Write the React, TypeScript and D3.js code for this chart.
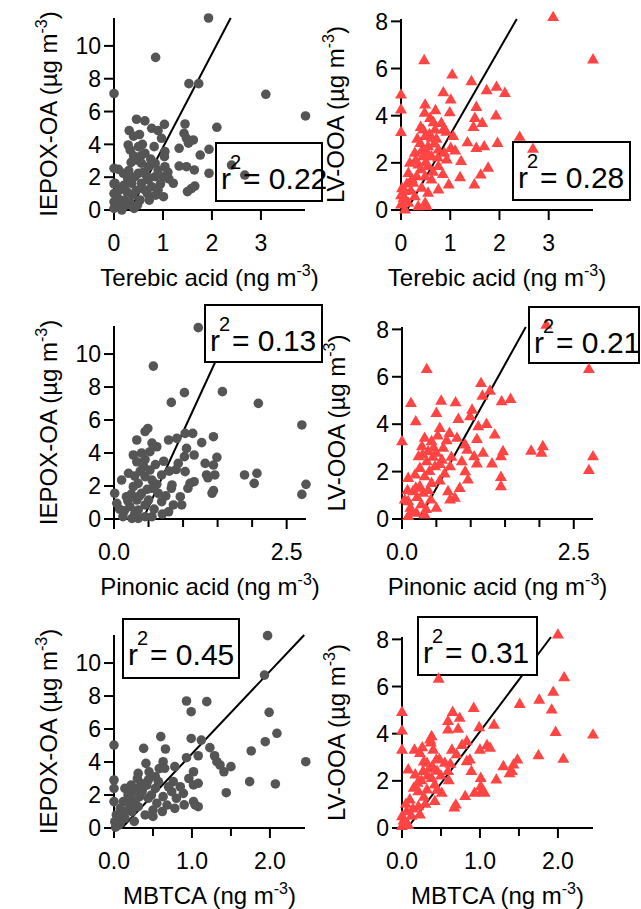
import React from 'react';
import * as d3 from 'd3';

const FONT = '"Liberation Sans", Arial, Helvetica, sans-serif';
const GREY = '#555555';
const RED = '#ff4444';

// IEPOX-OA vs terebic acid
const iepoxTerebic: [number, number][] = [
  [1.93, 11.7], [0.85, 9.3], [0, 7.1], [1.53, 7.7], [1.73, 7.7], [3.1, 7.05], [3.91, 5.73], [2.1, 5.04],
  [1.45, 5.24], [1.43, 4.67], [1.94, 3.7], [1.76, 3.35], [2.4, 2.74], [2.67, 2.13], [1.94, 2.24], [1.64, 2.44],
  [1.48, 2.64], [1.33, 2.68], [1.5, 1.12], [1.65, 1.46], [1.58, 1.3], [1.21, 1.63], [1.33, 3.76], [1.52, 4.07],
  [1.62, 4.27], [1.48, 4.37], [0.46, 5.53], [0.63, 5.43], [0.31, 4.84], [0.77, 4.98], [0.9, 4.84], [1.03, 5.22],
  [0.97, 4.37], [1.04, 3.56], [1.03, 3.25], [0.29, 3.96], [0.33, 3.66], [0.5, 3.86], [0.63, 3.46], [0.82, 3.86],
  [0.46, 3.05], [0.56, 2.85], [0.7, 2.64], [0.84, 2.85], [0.9, 2.44], [1.01, 2.03], [1.04, 2.64], [0.09, 2.48],
  [0.19, 2.24], [0.02, 1.63], [0.12, 1.32], [0.05, 0.91], [0.02, 0.41], [0.12, 0.2], [0.22, 0.61], [0.26, 1.12],
  [0.36, 1.63], [0.43, 2.03], [0.5, 2.24], [0.56, 1.63], [0.63, 1.22], [0.7, 1.83], [0.77, 1.42], [0.84, 2.03],
  [0.9, 1.22], [1.01, 0.81], [0.53, 0.61], [0.41, 0.1], [0.33, 0.41], [0.16, 0], [0, 0.1], [0, 0.5],
  [0, 1.0], [0, 1.6], [0, 2.54], [0.4, 3.3], [0.55, 3.3], [0.6, 2.3], [0.45, 1.2], [0.38, 0.9],
  [0.3, 2.4], [0.66, 2.1], [0.75, 3.1], [0.58, 4.0], [0.68, 1.0], [0.28, 1.9], [0.08, 0.7], [0.2, 1.5],
  [0.35, 2.9], [0.72, 0.6], [0.48, 0.3], [0.95, 1.6], [0.85, 0.9], [1.1, 2.3], [1.12, 1.9], [0.52, 4.6],
  [0.4, 4.5], [0.24, 0.3], [0.1, 1.2],
];

// LV-OOA vs terebic acid
const lvTerebic: [number, number][] = [
  [3.09, 8.16], [3.9, 6.36], [0.47, 6.33], [1.04, 5.72], [1.43, 5.44], [0.86, 4.97], [1.01, 4.66], [1.74, 5.06],
  [1.94, 5.2], [2.11, 4.94], [0, 4.87], [0, 4.24], [0, 3.28], [0.49, 4.45], [0.7, 4.21], [0.99, 4.12],
  [0.48, 4.1], [1.53, 4.35], [1.5, 3.88], [1.47, 3.5], [1.65, 3.67], [1.93, 3.98], [2.41, 3.08], [2.68, 2.57],
  [1.96, 2.82], [1.69, 2.68], [1.53, 2.61], [1.35, 2.85], [1.77, 1.77], [1.62, 1.48], [1.49, 1.06], [1.22, 2.05],
  [1.2, 1.37], [0.97, 1.06], [0.76, 0.85], [0.55, 0.71], [0.49, 0.28], [1.06, 3.11], [1.01, 2.61], [0.93, 2.12],
  [0.82, 3.67], [0.59, 3.88], [0.86, 3.39], [0.69, 3.39], [0.45, 3.39], [0.49, 3.11], [0.62, 3.04], [0.39, 2.82],
  [0.55, 2.68], [0.76, 2.54], [0.28, 2.4], [0.45, 2.26], [0.62, 2.26], [0.18, 1.98], [0.35, 1.91], [0.55, 1.84],
  [0.76, 1.84], [0.15, 1.55], [0.32, 1.41], [0.49, 1.41], [0.62, 1.27], [0.25, 1.13], [0.42, 0.92], [0.08, 0.78],
  [0.05, 0.49], [0, 0.21], [0.15, 0.28], [0.28, 0.56], [0.08, 0], [0.35, 0.14], [0.52, 0.15], [0, 0.6],
  [0.02, 0.9], [0.68, 2.8], [0.4, 3.5], [0.33, 3.0], [0.5, 2.0], [0.65, 1.6], [0.88, 2.4], [0.72, 3.0],
  [0.85, 1.5], [0.22, 1.3], [0.12, 1.1], [0.4, 1.7], [0.58, 3.2], [0.3, 2.1], [0.1, 0.4], [0.2, 0.8],
  [0.75, 2.2], [0.92, 3.3], [1.1, 2.5], [0.42, 2.5], [0.66, 3.7], [0.54, 2.4],
];

// IEPOX-OA vs pinonic acid
const iepoxPinonic: [number, number][] = [
  [1.22, 11.6], [0.57, 9.27], [1.02, 7.66], [0.83, 7.07], [1.57, 7.72], [2.09, 7.01], [2.72, 5.7], [1.44, 4.99],
  [1.27, 4.63], [1.14, 5.19], [1.03, 5.19], [0.91, 4.89], [0.79, 4.79], [0.49, 5.49], [0.45, 5.3], [0.33, 4.79],
  [0.62, 4.38], [0.52, 4.08], [0.28, 3.88], [0.33, 3.47], [0.45, 3.6], [1.05, 4.28], [1.16, 3.88], [1.02, 3.78],
  [0.93, 3.37], [1.03, 2.87], [1.32, 3.37], [1.44, 3.27], [1.49, 3.74], [1.46, 2.67], [1.34, 2.67], [1.36, 2.5],
  [1.89, 2.67], [2.07, 2.77], [2.03, 2.16], [2.72, 1.49], [2.78, 2.1], [1.42, 1.56], [1.44, 1.72], [1.1, 2.16],
  [1.16, 2.26], [1.07, 1.86], [0.84, 2.06], [0.83, 1.86], [0.96, 1.35], [0.98, 0.85], [0.86, 0.85], [0.79, 0.44],
  [0.69, 1.05], [0.64, 1.56], [0.55, 1.86], [0.69, 2.67], [0.21, 2.77], [0.11, 2.36], [0.01, 1.56], [0.04, 0.95],
  [0.13, 0.14], [0.26, 0.04], [0.35, 0.04], [0.45, 0.14], [0.55, 0.14], [0.23, 0.75], [0.33, 1.15], [0.4, 1.56],
  [0.35, 2.16], [0.45, 2.57], [0.52, 2.97], [0.55, 2.36], [0.43, 3.17], [0.28, 1.96], [0.18, 1.35], [0.45, 0.85],
  [0.35, 0.55], [0.5, 1.15], [0.3, 2.6], [0.6, 3.3], [0.38, 2.9], [0.25, 1.5], [0.15, 0.5], [0.3, 0.3],
  [0.48, 1.8], [0.62, 2.1], [0.72, 3.5], [0.8, 2.9], [0.4, 4.0], [0.2, 1.1], [0.08, 0.6], [0.58, 0.6],
  [0.7, 0.3], [0.9, 3.0], [0.75, 1.4], [0.37, 1.4], [0.55, 4.6],
];

// LV-OOA vs pinonic acid
const lvPinonic: [number, number][] = [
  [2.1, 8.17], [2.72, 6.3], [0.36, 6.3], [1.15, 5.71], [1.28, 5.39], [1.17, 5.18], [1.45, 4.94], [1.58, 5.04],
  [0.57, 4.97], [0.78, 4.9], [0.13, 4.87], [0.5, 4.45], [0.2, 4.1], [0.82, 4.2], [1.02, 4.59], [0.99, 4.31],
  [1.11, 3.89], [1.23, 3.99], [1.35, 3.54], [1.09, 3.35], [0.92, 3.12], [0.69, 3.61], [0.55, 3.82], [0, 3.26],
  [1.88, 2.86], [2.05, 3.05], [2.03, 2.77], [2.78, 2.62], [2.72, 2.04], [1.47, 2.84], [1.44, 2.62], [1.18, 2.77],
  [1.05, 2.62], [1.09, 2.32], [1.31, 2.32], [1.44, 1.75], [1.44, 1.36], [0.87, 2.41], [0.92, 1.99], [0.96, 1.64],
  [0.84, 1.29], [0.77, 0.87], [0.67, 1.15], [0.7, 0.8], [0.5, 0.45], [0.09, 0.73], [0.09, 1.71], [0.33, 3.4],
  [0.43, 3.26], [0.29, 3.05], [0.38, 2.84], [0.5, 2.77], [0.6, 2.98], [0.24, 2.62], [0.36, 2.41], [0.48, 2.2],
  [0.58, 2.48], [0.26, 2.13], [0.19, 1.85], [0.33, 1.78], [0.43, 1.5], [0.26, 1.36], [0.16, 1.15], [0.31, 1.08],
  [0.04, 0.8], [0.12, 0.45], [0.21, 0.24], [0.09, 0.1], [0.33, 0.17], [0.45, 2.6], [0.4, 2.0], [0.55, 2.3],
  [0.65, 3.3], [0.3, 2.7], [0.52, 3.5], [0.2, 1.3], [0.38, 1.2], [0.15, 0.3], [0.28, 0.6], [0.72, 2.6],
  [0.62, 1.9], [0.8, 3.4], [0.46, 3.0], [0.7, 2.2], [0.22, 0.9], [0.55, 1.6], [0.08, 1.2], [0.42, 0.8],
  [0.95, 2.9], [0.35, 0.4],
];

// IEPOX-OA vs MBTCA
const iepoxMbtca: [number, number][] = [
  [1.97, 11.66], [1.93, 9.27], [0.93, 7.7], [1.19, 7.66], [0.99, 7.05], [1.99, 7.01], [2.09, 5.74], [1.94, 5.23],
  [2.46, 4.02], [1.76, 4.67], [1.74, 2.81], [2.07, 2.67], [1.44, 2.14], [1.12, 5.33], [0.99, 5.43], [1.08, 4.38],
  [1.23, 4.87], [1.29, 4.38], [1.32, 4.02], [1.36, 3.82], [1.41, 3.41], [1.5, 3.72], [0.93, 4.26], [1.02, 3.41],
  [1.02, 2.61], [1.08, 2.71], [1.02, 1.6], [1.08, 1.29], [1.04, 1.4], [0.6, 5.54], [0.66, 4.79], [0.38, 4.83],
  [0, 5.03], [0.78, 3.72], [0.63, 4.02], [0.41, 3.92], [0.31, 3.31], [0.53, 3.11], [0.65, 3.62], [0.85, 2.5],
  [0.89, 2.1], [0.8, 1.8], [0.74, 2.2], [0.78, 1.19], [0.68, 1.39], [0.63, 1.9], [0.5, 1.09], [0.44, 1.8],
  [0.38, 2.5], [0.29, 2.4], [0.14, 2.4], [0.21, 1.8], [0.12, 1.6], [0.08, 1.19], [0, 2.91], [0, 2.4],
  [0, 1.6], [0.03, 0.79], [0.01, 0.38], [0.06, 0.18], [0.14, 0.59], [0.23, 0.99], [0.31, 1.29], [0.4, 0.79],
  [0.33, 1.9], [0.53, 2.4], [0.57, 2.81], [0.44, 2.91], [0.76, 2.81], [0.25, 2.2], [0.35, 2.7], [0.45, 3.4],
  [0.2, 1.4], [0.1, 0.9], [0.05, 0.5], [0.3, 3.0], [0.18, 2.0], [0.27, 1.6], [0.36, 2.2], [0.48, 2.0],
  [0.55, 1.5], [0.62, 1.0], [0.7, 2.5], [0.15, 1.0], [0.02, 0.05], [0.08, 0.3], [0.42, 2.6], [0.58, 3.6],
  [0.22, 2.6], [0.5, 0.7], [0.9, 1.4], [0.96, 3.0], [0.26, 0.4],
];

// LV-OOA vs MBTCA
const lvMbtca: [number, number][] = [
  [2.0, 8.18], [0.47, 6.31], [2.08, 6.37], [1.94, 5.75], [1.76, 5.42], [1.51, 5.24], [1.92, 5.0], [2.45, 3.94],
  [1.97, 4.05], [2.07, 2.91], [1.75, 3.06], [0.92, 5.07], [0.65, 4.9], [0.74, 4.65], [0.59, 4.51], [0.59, 4.15],
  [0.72, 4.19], [0.99, 4.25], [1.18, 4.36], [0, 4.9], [0, 4.11], [0, 3.3], [0.38, 3.87], [0.36, 3.73],
  [0.37, 3.6], [0.83, 3.66], [1.09, 3.49], [1.13, 3.38], [1.0, 3.3], [0.64, 3.3], [0.16, 3.3], [0.23, 3.16],
  [1.48, 2.88], [1.43, 2.67], [1.3, 2.6], [1.41, 2.39], [1.38, 2.3], [1.21, 2.03], [1.01, 2.1], [1.01, 1.75],
  [1.02, 1.54], [1.06, 1.47], [0.93, 1.47], [0.81, 1.33], [0.69, 0.97], [0.67, 0.85], [0.87, 2.88], [0.83, 2.81],
  [0.89, 2.39], [0.59, 2.39], [0.62, 2.7], [0.55, 2.74], [0.44, 2.88], [0.32, 2.74], [0.27, 2.39], [0.38, 2.1],
  [0.45, 2.4], [0.17, 2.25], [0.08, 2.46], [0.15, 1.68], [0.21, 1.54], [0.32, 1.61], [0.42, 1.82], [0.51, 1.47],
  [0.42, 1.12], [0.28, 1.3], [0.1, 1.19], [0.21, 0.9], [0.06, 0.69], [0, 0.48], [0.04, 0.27], [0, 0.06],
  [0.08, 0.1], [0.23, 0.55], [0.14, 0.8], [0.35, 2.5], [0.28, 2.8], [0.4, 3.3], [0.5, 2.2], [0.25, 2.0],
  [0.33, 2.2], [0.48, 2.9], [0.2, 1.9], [0.05, 1.0], [0.02, 0.3], [0.3, 1.0], [0.6, 2.0], [0.7, 3.1],
  [0.45, 1.6], [0.12, 0.5], [0.39, 2.6], [0.26, 3.4], [0.77, 3.5],
];

// ticks
const xTicksTerebic = [0, 1, 2, 3];
const xTicksPinonic = [0, 2.5];
const xMinorPinonic = [0.5, 1, 1.5, 2];
const xTicksMbtca = [0, 1, 2];
const xMinorMbtca = [0.5, 1.5];
const yTicksIepox = [0, 2, 4, 6, 8, 10];
const yTicksLv = [0, 2, 4, 6, 8];

// linear fits [slope, intercept] and r2 labels
const fitLines: [number, number][] = [
  [5.7, -1.88], [3.63, -0.436], [9.1, -3.82], [5.22, -1.305], [5.0, -0.5], [4.4, -0.31],
];
const r2Labels = ['0.22', '0.28', '0.13', '0.21', '0.45', '0.31'];

const xNames = ['Terebic acid', 'Terebic acid', 'Pinonic acid', 'Pinonic acid', 'MBTCA', 'MBTCA'];
const yNames = ['IEPOX-OA', 'LV-OOA', 'IEPOX-OA', 'LV-OOA', 'IEPOX-OA', 'LV-OOA'];

type PanelDef = {
  data: [number, number][];
  xMax: number; yMax: number;
  left: number; right: number; top: number; bottom: number;
  xTicks: number[]; xMinor: number[]; fmt: (v: number) => string;
  yTicks: number[];
  red: boolean;
  box: [number, number, number, number];
};

const fmtInt = (v: number) => String(v);
const fmt1 = d3.format('.1f');

const panels: PanelDef[] = [
  { data: iepoxTerebic, xMax: 3.9, yMax: 11.7, left: 114, right: 305, top: 18, bottom: 210,
    xTicks: xTicksTerebic, xMinor: [], fmt: fmtInt, yTicks: yTicksIepox, red: false, box: [216, 143, 106, 58] },
  { data: lvTerebic, xMax: 3.9, yMax: 8.1, left: 401, right: 593, top: 19, bottom: 210,
    xTicks: xTicksTerebic, xMinor: [], fmt: fmtInt, yTicks: yTicksLv, red: true, box: [513, 142, 117, 58] },
  { data: iepoxPinonic, xMax: 2.78, yMax: 11.7, left: 114, right: 306, top: 326, bottom: 519,
    xTicks: xTicksPinonic, xMinor: xMinorPinonic, fmt: fmt1, yTicks: yTicksIepox, red: false, box: [205, 305, 117, 57] },
  { data: lvPinonic, xMax: 2.78, yMax: 8.1, left: 402, right: 593, top: 327, bottom: 519,
    xTicks: xTicksPinonic, xMinor: xMinorPinonic, fmt: fmt1, yTicks: yTicksLv, red: true, box: [529, 307, 110, 56] },
  { data: iepoxMbtca, xMax: 2.45, yMax: 11.7, left: 114, right: 305, top: 635, bottom: 828,
    xTicks: xTicksMbtca, xMinor: xMinorMbtca, fmt: fmt1, yTicks: yTicksIepox, red: false, box: [123, 619, 116, 59] },
  { data: lvMbtca, xMax: 2.45, yMax: 8.1, left: 402, right: 593, top: 637, bottom: 828,
    xTicks: xTicksMbtca, xMinor: xMinorMbtca, fmt: fmt1, yTicks: yTicksLv, red: true, box: [418, 617, 119, 58] },
];

const tri = d3.symbol().type(d3.symbolTriangle).size(62)() as string;

function Panel({ p, i }: { p: PanelDef; i: number }) {
  const x = d3.scaleLinear().domain([0, p.xMax]).range([p.left, p.right]);
  const y = d3.scaleLinear().domain([0, p.yMax]).range([p.bottom, p.top]);
  const [slope, icpt] = fitLines[i];
  const fx0 = -icpt / slope;
  const fx1 = (p.yMax - icpt) / slope;
  const fit = d3.line()([[x(fx0), y(0)], [x(fx1), y(p.yMax)]]) as string;
  const [bx, by, bw, bh] = p.box;
  const cx = (p.left + p.right) / 2;
  const cy = (p.top + p.bottom) / 2;

  return (
    <g fontFamily={FONT}>
      {/* axes */}
      <line x1={x(0)} x2={x(p.xMax)} y1={y(0)} y2={y(0)} stroke="#000" strokeWidth={2} />
      <line x1={x(0)} x2={x(0)} y1={y(0)} y2={y(p.yMax)} stroke="#000" strokeWidth={2} />
      {p.yTicks.map(t => (
        <g key={'y' + t}>
          <line x1={x(0) - 10} x2={x(0)} y1={y(t)} y2={y(t)} stroke="#000" strokeWidth={2} />
          <text x={x(0) - 13} y={y(t)} dy="0.36em" textAnchor="end" fontSize={23}>{t}</text>
        </g>
      ))}
      {p.xTicks.map(t => (
        <g key={'x' + t}>
          <line x1={x(t)} x2={x(t)} y1={y(0)} y2={y(0) + 10} stroke="#000" strokeWidth={2} />
          <text x={x(t)} y={y(0) + 41} textAnchor="middle" fontSize={23}>{p.fmt(t)}</text>
        </g>
      ))}
      {p.xMinor.map(t => (
        <line key={'m' + t} x1={x(t)} x2={x(t)} y1={y(0)} y2={y(0) + 8} stroke="#000" strokeWidth={2} />
      ))}
      {/* axis titles */}
      <text x={cx} y={p.bottom + 76} textAnchor="middle" fontSize={24}>
        {xNames[i]} (ng m<tspan dy={-10} fontSize={16}>-3</tspan><tspan dy={10}>)</tspan>
      </text>
      <text transform={`translate(${p.left - 57},${cy}) rotate(-90)`} textAnchor="middle" fontSize={24}>
        {yNames[i]} (µg m<tspan dy={-10} fontSize={16}>-3</tspan><tspan dy={10}>)</tspan>
      </text>
      {/* fit line */}
      <path d={fit} stroke="#000" strokeWidth={2} fill="none" />
      {/* r2 box */}
      <rect x={bx} y={by} width={bw} height={bh} fill="#fff" stroke="#000" strokeWidth={2} />
      {/* points */}
      {p.data.map((d, k) =>
        p.red ? (
          <path key={k} d={tri} transform={`translate(${x(d[0])},${y(d[1])})`} fill={RED} />
        ) : (
          <circle key={k} cx={x(d[0])} cy={y(d[1])} r={4.8} fill={GREY} />
        )
      )}
      <text x={bx + 5} y={by + 46} fontSize={30}>r</text>
      <text x={bx + 14} y={by + 26} fontSize={20}>2</text>
      <text x={bx + 27} y={by + 46} fontSize={30}>= {r2Labels[i]}</text>
    </g>
  );
}

export default function App() {
  return (
    <svg width={641} height={909} style={{ position: 'absolute', left: 0, top: 0, background: '#fff' }}>
      <rect width={641} height={909} fill="#fff" />
      {panels.map((p, i) => <Panel key={i} p={p} i={i} />)}
    </svg>
  );
}
